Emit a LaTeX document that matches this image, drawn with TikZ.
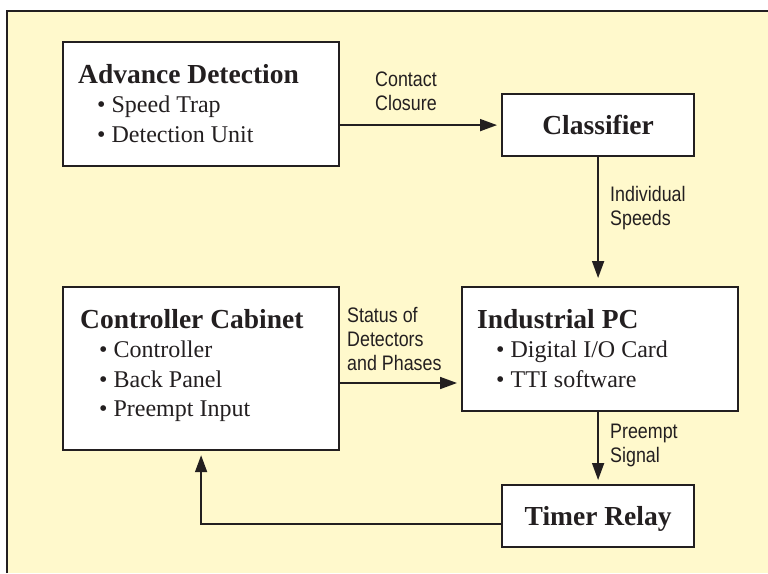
\documentclass[tikz,border=0pt]{standalone}
\usepackage{fontspec}
\setmainfont{Liberation Serif}
\newfontfamily\labelfont[FakeStretch=0.85]{Liberation Sans}
\usetikzlibrary{arrows.meta,calc}
\definecolor{paper}{RGB}{255,249,204}
\definecolor{ink}{RGB}{35,31,32}
\newcommand{\head}[1]{{\fontsize{27.5}{29.5}\selectfont\bfseries #1}}
\newcommand{\itm}[1]{\hspace*{19pt}\textbullet\ #1}

\begin{document}
\begin{tikzpicture}[x=1pt,y=-1pt,
  box/.style={draw=ink,line width=2.2pt,fill=white,anchor=north west,inner sep=0pt,
    text depth=0pt,text=ink,font=\fontsize{27.5}{29.5}\selectfont\bfseries},
  body/.style={anchor=base west,inner sep=0pt,text=ink,font=\fontsize{24}{29.5}\selectfont},
  lbl/.style={anchor=base west,inner sep=0pt,text=ink,font=\labelfont\fontsize{21}{24}\selectfont},
  arr/.style={draw=ink,line width=1.7pt,-{Triangle[length=17pt,width=12pt]},shorten >=4pt}]
\useasboundingbox (0,0) rectangle (768,573);
\fill[paper] (7,11) rectangle (768,573);
\draw[ink,line width=2pt] (7,573) -- (7,11) -- (768,11);

% boxes
\node[box,minimum width=276pt,minimum height=124pt] (adv) at (62,41) {};
\node[box,minimum width=192pt,minimum height=62pt] (cls) at (501,93) {Classifier};
\node[box,minimum width=276pt,minimum height=163pt] (cab) at (62,286) {};
\node[box,minimum width=276pt,minimum height=124pt] (ipc) at (461,286) {};
\node[box,minimum width=192pt,minimum height=62pt] (tmr) at (501,484) {Timer Relay};

% box texts
\node[body] (advtxt) at ($(adv.north west)+(16,42)$) {\begin{tabular}[t]{@{}l@{}}
  \head{Advance Detection}\\ \itm{Speed Trap}\\ \itm{Detection Unit}\end{tabular}};
\node[body] (cabtxt) at ($(cab.north west)+(18,42)$) {\begin{tabular}[t]{@{}l@{}}
  \head{Controller Cabinet}\\ \itm{Controller}\\ \itm{Back Panel}\\ \itm{Preempt Input}\end{tabular}};
\node[body] (ipctxt) at ($(ipc.north west)+(16,42)$) {\begin{tabular}[t]{@{}l@{}}
  \head{Industrial PC}\\ \itm{Digital I/O Card}\\ \itm{TTI software}\end{tabular}};

% connector labels
\node[lbl] (contact) at (375,86.7) {\begin{tabular}[t]{@{}l@{}}Contact\\ Closure\end{tabular}};
\node[lbl] (speeds) at (610,201.7) {\begin{tabular}[t]{@{}l@{}}Individual\\ Speeds\end{tabular}};
\node[lbl] (status) at (347,322.7) {\begin{tabular}[t]{@{}l@{}}Status of\\ Detectors\\ and Phases\end{tabular}};
\node[lbl] (signal) at (610,438) {\begin{tabular}[t]{@{}l@{}}Preempt\\ Signal\end{tabular}};

% connectors
\coordinate (stat) at (400,383);
\coordinate (ret) at (400,524);
\draw[arr] (adv.east |- cls.west) -- (cls.west);
\draw[arr,shorten >=8pt] (cls.south) -- (cls.south |- ipc.north);
\draw[arr] (cab.east |- stat) -- (ipc.west |- stat);
\draw[arr] (ipc.south -| tmr.north) -- (tmr.north);
\draw[arr] (tmr.west |- ret) -| (cab.south);
\end{tikzpicture}
\end{document}
